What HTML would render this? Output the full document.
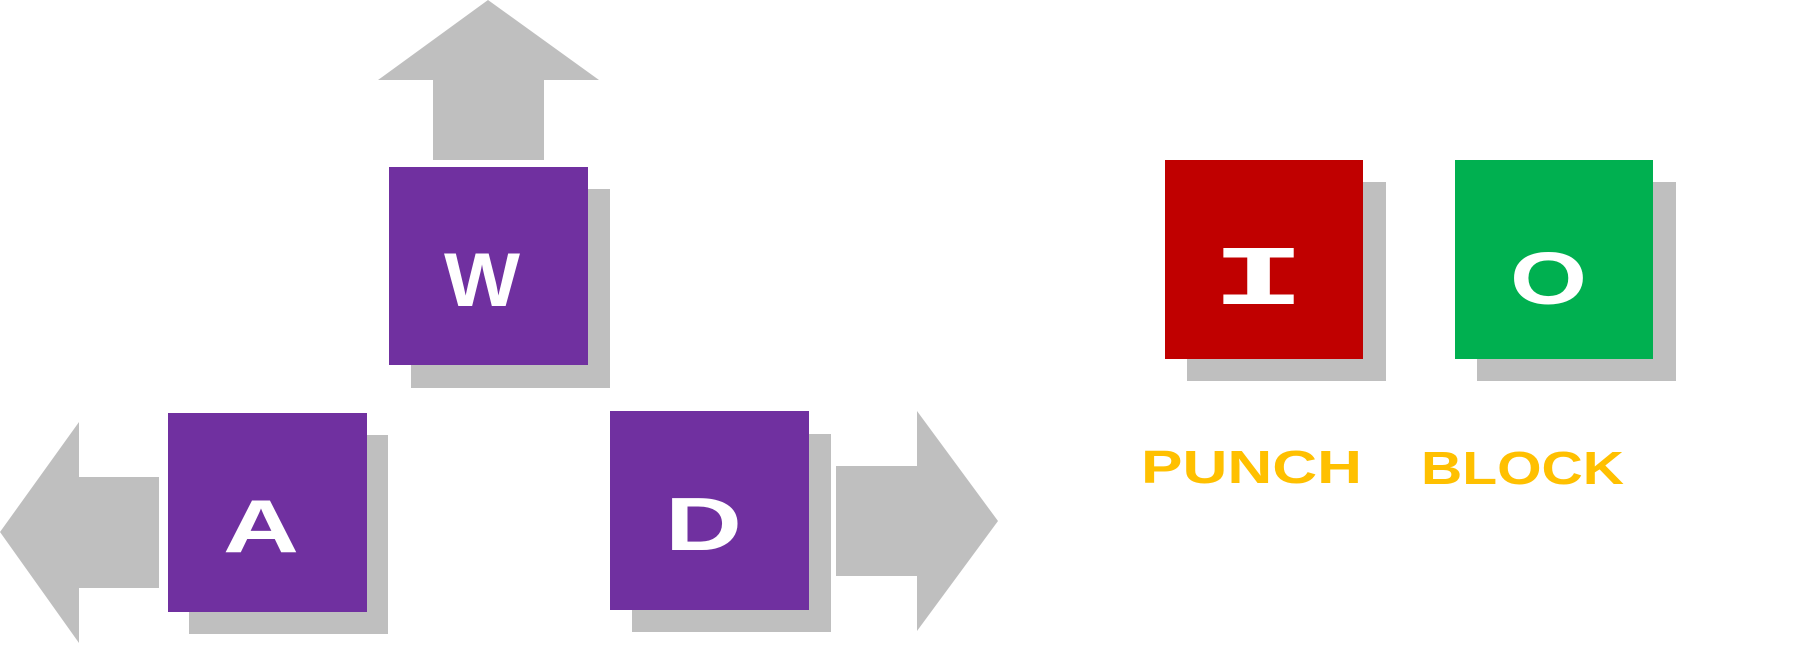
<!DOCTYPE html>
<html><head><meta charset="utf-8"><style>
html,body{margin:0;padding:0;background:#fff;}
svg{display:block;}
</style></head><body>
<svg width="1804" height="645" viewBox="0 0 1804 645" xmlns="http://www.w3.org/2000/svg">
<polygon points="488,0 599,80 544,80 544,160 433,160 433,80 378,80" fill="#bfbfbf"/>
<polygon points="0,532 79,422 79,477 159,477 159,588 79,588 79,643" fill="#bfbfbf"/>
<polygon points="998,521 917,411 917,466 836,466 836,576 917,576 917,631" fill="#bfbfbf"/>
<rect x="411" y="189" width="199" height="199" fill="#bfbfbf"/>
<rect x="189" y="435" width="199" height="199" fill="#bfbfbf"/>
<rect x="632" y="434" width="199" height="198" fill="#bfbfbf"/>
<rect x="1187" y="182" width="199" height="199" fill="#bfbfbf"/>
<rect x="1477" y="182" width="199" height="199" fill="#bfbfbf"/>
<rect x="389" y="167" width="199" height="198" fill="#7030a0"/>
<rect x="168" y="413" width="199" height="199" fill="#7030a0"/>
<rect x="610" y="411" width="199" height="199" fill="#7030a0"/>
<rect x="1165" y="160" width="198" height="199" fill="#c00000"/>
<rect x="1455" y="160" width="198" height="199" fill="#00b050"/>
<g font-family="Liberation Sans, sans-serif" fill="#fff" font-weight="bold">
<text x="444" y="306" font-size="76" textLength="76" lengthAdjust="spacingAndGlyphs">W</text>
<text x="1510" y="304" font-size="74" textLength="77" lengthAdjust="spacingAndGlyphs">O</text>
<text x="223" y="552" font-size="75" textLength="76" lengthAdjust="spacingAndGlyphs">A</text>
<text x="665" y="550" font-size="75" textLength="77" lengthAdjust="spacingAndGlyphs">D</text>
</g>
<text transform="translate(1258.5,304) scale(1.85,1)" x="0" y="0" text-anchor="middle" font-family="Liberation Mono, monospace" font-weight="bold" font-size="85" fill="#fff">I</text>
<g font-family="Liberation Sans, sans-serif" fill="#ffc000" font-size="46" font-weight="bold">
<text x="1141" y="483" textLength="221" lengthAdjust="spacingAndGlyphs">PUNCH</text>
<text x="1421" y="484" textLength="203" lengthAdjust="spacingAndGlyphs">BLOCK</text>
</g>
</svg>
</body></html>
